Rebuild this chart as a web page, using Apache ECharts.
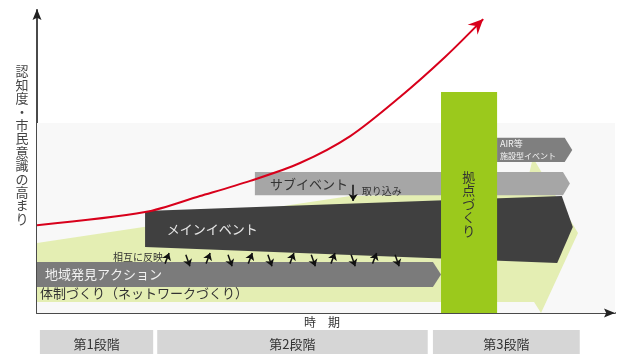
<!DOCTYPE html>
<html>
<head>
<meta charset="utf-8">
<script src="https://cdn.jsdelivr.net/npm/echarts@6/dist/echarts.min.js"></script>
<style>
  html, body { margin: 0; padding: 0; background: #fff; }
  #chart { width: 623px; height: 354px; }
</style>
</head>
<body>
<div id="chart"></div>
<script>
// 単位: 横 = 時期 (0-100)、縦 = 認知度 (0-100)
var yAxisTitle = '認知度・市民意識の高まり';
var xAxisTitle = '時　期';

// 認知度・市民意識の曲線
var curveX = [0, 18.7, 28.2, 36.9, 45.5, 54.2, 62.8, 70.6, 77.2];
var curveY = [29.0, 33.3, 38.6, 43.6, 49.5, 58.4, 71.3, 84.5, 97.0];

// 段階
var stageNames = ['第1段階', '第2段階', '第3段階'];
var stageFrom = [0.5, 20.8, 68.5];
var stageTo = [20.1, 67.6, 93.9];

// 各取り組みの帯 (時期, 認知度)
var bgBand = [[0, 0], [100, 0], [100, 62.7], [0, 62.7]];
var networkShape = [[0, 23.1], [54.2, 38.6], [84.4, 39.9], [85.8, 51.2], [93.6, 26.4], [87.2, 0], [86.0, 3.6], [0, 3.6]];
var actionShape = [[0, 16.8], [68.5, 16.8], [69.9, 12.7], [68.5, 8.6], [0, 8.6]];
var mainShape = [[18.7, 33.7], [90.8, 38.6], [92.7, 28.4], [90.0, 16.5], [18.7, 21.8]];
var subShape = [[37.7, 46.5], [91.0, 46.5], [92.2, 42.7], [91.0, 38.9], [37.7, 38.9]];
var airShape = [[79.6, 57.8], [91.3, 57.8], [92.6, 53.8], [91.3, 49.8], [79.6, 49.8]];
var baseBox = [[69.9, 0], [79.6, 0], [79.6, 72.9], [69.9, 72.9]];

// 相互に反映の矢印 (1 = 上向き, -1 = 下向き)
var linkX = [22.5, 26.1, 29.6, 33.4, 36.9, 40.3, 44.1, 47.8, 51.2, 54.7, 58.4, 62.3];
var linkDir = [1, -1, 1, -1, 1, -1, 1, -1, 1, -1, 1, -1];
// 取り込みの矢印
var takeInX = 54.7;

var FONT = '"Noto Sans CJK JP", "Noto Sans", sans-serif';

function vertical(s) {
  return s.split('').join('\n');
}

function polySeries(points, color, z, texts) {
  return {
    type: 'custom',
    coordinateSystem: 'cartesian2d',
    silent: true,
    clip: false,
    z: z,
    data: [[0, 0]],
    renderItem: function (params, api) {
      var children = [];
      if (points.length) {
        children.push({
          type: 'polygon',
          shape: { points: points.map(function (p) { return api.coord(p); }) },
          style: { fill: color }
        });
      }
      (texts || []).forEach(function (t) {
        var p = api.coord(t.at);
        children.push({
          type: 'text',
          x: p[0], y: p[1],
          style: {
            text: t.text,
            fill: t.color || '#333',
            font: (t.size || 13) + 'px ' + FONT,
            align: t.align || 'left',
            verticalAlign: 'middle',
            lineHeight: t.lineHeight
          }
        });
      });
      return { type: 'group', children: children };
    }
  };
}

// 矢じり (先端 tip、方向 from→tip)
function arrowHead(tip, from, L, W, notch) {
  var dx = tip[0] - from[0], dy = tip[1] - from[1];
  var len = Math.sqrt(dx * dx + dy * dy);
  var ux = dx / len, uy = dy / len;
  var bx = tip[0] - ux * L, by = tip[1] - uy * L;
  var nx = tip[0] - ux * L * notch, ny = tip[1] - uy * L * notch;
  return [tip, [bx - uy * W, by + ux * W], [nx, ny], [bx + uy * W, by - ux * W]];
}

var chart = echarts.init(document.getElementById('chart'));

var linkData = linkX.map(function (x, i) {
  var lo = [x - 0.35, linkDir[i] > 0 ? 16.3 : 19.2];
  var hi = [x + 0.35, linkDir[i] > 0 ? 19.8 : 15.4];
  return { coords: [lo, hi] };
});
linkData.push({ coords: [[takeInX, 42.3], [takeInX, 37.0]] });

var axisCommon = {
  type: 'value', min: 0, max: 100,
  axisLine: { show: true, lineStyle: { color: '#4a4a4a', width: 2 } },
  axisTick: { show: false }, axisLabel: { show: false }, splitLine: { show: false }
};

var option = {
  animation: false,
  backgroundColor: '#fff',
  grid: { left: 37, right: 8, top: 10, bottom: 41 },
  xAxis: axisCommon,
  yAxis: axisCommon,
  series: [
    polySeries(bgBand, '#f8f8f8', 1),
    polySeries(networkShape, '#e4eeb3', 2, [
      { text: '体制づくり（ネットワークづくり）', at: [0.5, 6.6], size: 13 }
    ]),
    polySeries(actionShape, '#7b7b7b', 3, [
      { text: '地域発見アクション', at: [1.4, 12.7], color: '#f2f2f2', size: 13 }
    ]),
    polySeries(mainShape, '#404040', 3, [
      { text: 'メインイベント', at: [30.3, 27.7], color: '#e8e8e8', size: 13, align: 'center' }
    ]),
    polySeries(subShape, '#a6a6a6', 4, [
      { text: 'サブイベント', at: [40.3, 42.7], color: '#333', size: 13 },
      { text: '取り込み', at: [56.2, 40.2], color: '#333', size: 10 }
    ]),
    polySeries(airShape, '#7f7f7f', 4, [
      { text: 'AIR等', at: [80.1, 55.9], color: '#f4f4f4', size: 9 },
      { text: '施設型イベント', at: [80.1, 51.8], color: '#f4f4f4', size: 8 }
    ]),
    polySeries(baseBox, '#9bc91c', 5, [
      { text: vertical('拠点づくり'), at: [74.7, 36.0], color: '#333', size: 13, align: 'center', lineHeight: 13.5 }
    ]),
    // 軸タイトルなど
    polySeries([], '#fff', 6, [
      { text: vertical(yAxisTitle), at: [-2.6, 55.4], color: '#444', size: 13, align: 'center', lineHeight: 13.4 },
      { text: xAxisTitle, at: [49.3, -3.0], color: '#333', size: 12, align: 'center' },
      { text: '相互に反映', at: [21.8, 18.3], color: '#333', size: 10, align: 'right' }
    ]),
    // 軸の矢じり
    {
      type: 'custom',
      coordinateSystem: 'cartesian2d',
      silent: true,
      clip: false,
      z: 9,
      data: [[0, 0]],
      renderItem: function (params, api) {
        var o = api.coord([0, 0]);
        var xe = api.coord([100, 0]);
        var ye = api.coord([0, 100]);
        return {
          type: 'group',
          children: [
            { type: 'polygon', shape: { points: arrowHead([xe[0], xe[1]], o, 11, 4.5, 0.8) }, style: { fill: '#222' } },
            { type: 'polygon', shape: { points: arrowHead([ye[0], ye[1] - 1], o, 11, 4.5, 0.8) }, style: { fill: '#222' } }
          ]
        };
      }
    },
    // 段階
    {
      type: 'custom',
      coordinateSystem: 'cartesian2d',
      silent: true,
      clip: false,
      z: 6,
      data: stageNames.map(function () { return [0, 0]; }),
      renderItem: function (params, api) {
        var i = params.dataIndex;
        var a = api.coord([stageFrom[i], -5.6]);
        var b = api.coord([stageTo[i], -15]);
        var c = api.coord([(stageFrom[i] + stageTo[i]) / 2, -10.3]);
        return {
          type: 'group',
          children: [
            { type: 'rect', shape: { x: a[0], y: a[1], width: b[0] - a[0], height: b[1] - a[1] }, style: { fill: '#d6d6d6' } },
            { type: 'text', x: c[0], y: c[1], style: { text: stageNames[i], fill: '#333', font: '13px ' + FONT, align: 'center', verticalAlign: 'middle' } }
          ]
        };
      }
    },
    // 相互に反映・取り込みの矢印
    {
      type: 'lines',
      coordinateSystem: 'cartesian2d',
      silent: true,
      z: 7,
      symbol: ['none', 'arrow'],
      symbolSize: 7,
      lineStyle: { color: '#111', width: 1.5, opacity: 1 },
      data: linkData
    },
    // 認知度の曲線
    {
      type: 'line',
      silent: true,
      z: 8,
      smooth: 0.3,
      symbol: 'none',
      clip: false,
      lineStyle: { color: '#d8001b', width: 2 },
      data: curveX.map(function (x, i) { return [x, curveY[i]]; })
    },
    {
      type: 'custom',
      coordinateSystem: 'cartesian2d',
      silent: true,
      clip: false,
      z: 9,
      data: [[0, 0]],
      renderItem: function (params, api) {
        var n = curveX.length;
        var tip = api.coord([curveX[n - 1], curveY[n - 1]]);
        var prev = api.coord([curveX[n - 2], curveY[n - 2]]);
        return {
          type: 'polygon',
          shape: { points: arrowHead(tip, prev, 15, 7, 0.65) },
          style: { fill: '#d8001b' }
        };
      }
    }
  ]
};

chart.setOption(option);
window.addEventListener('resize', chart.resize);
</script>
</body>
</html>
